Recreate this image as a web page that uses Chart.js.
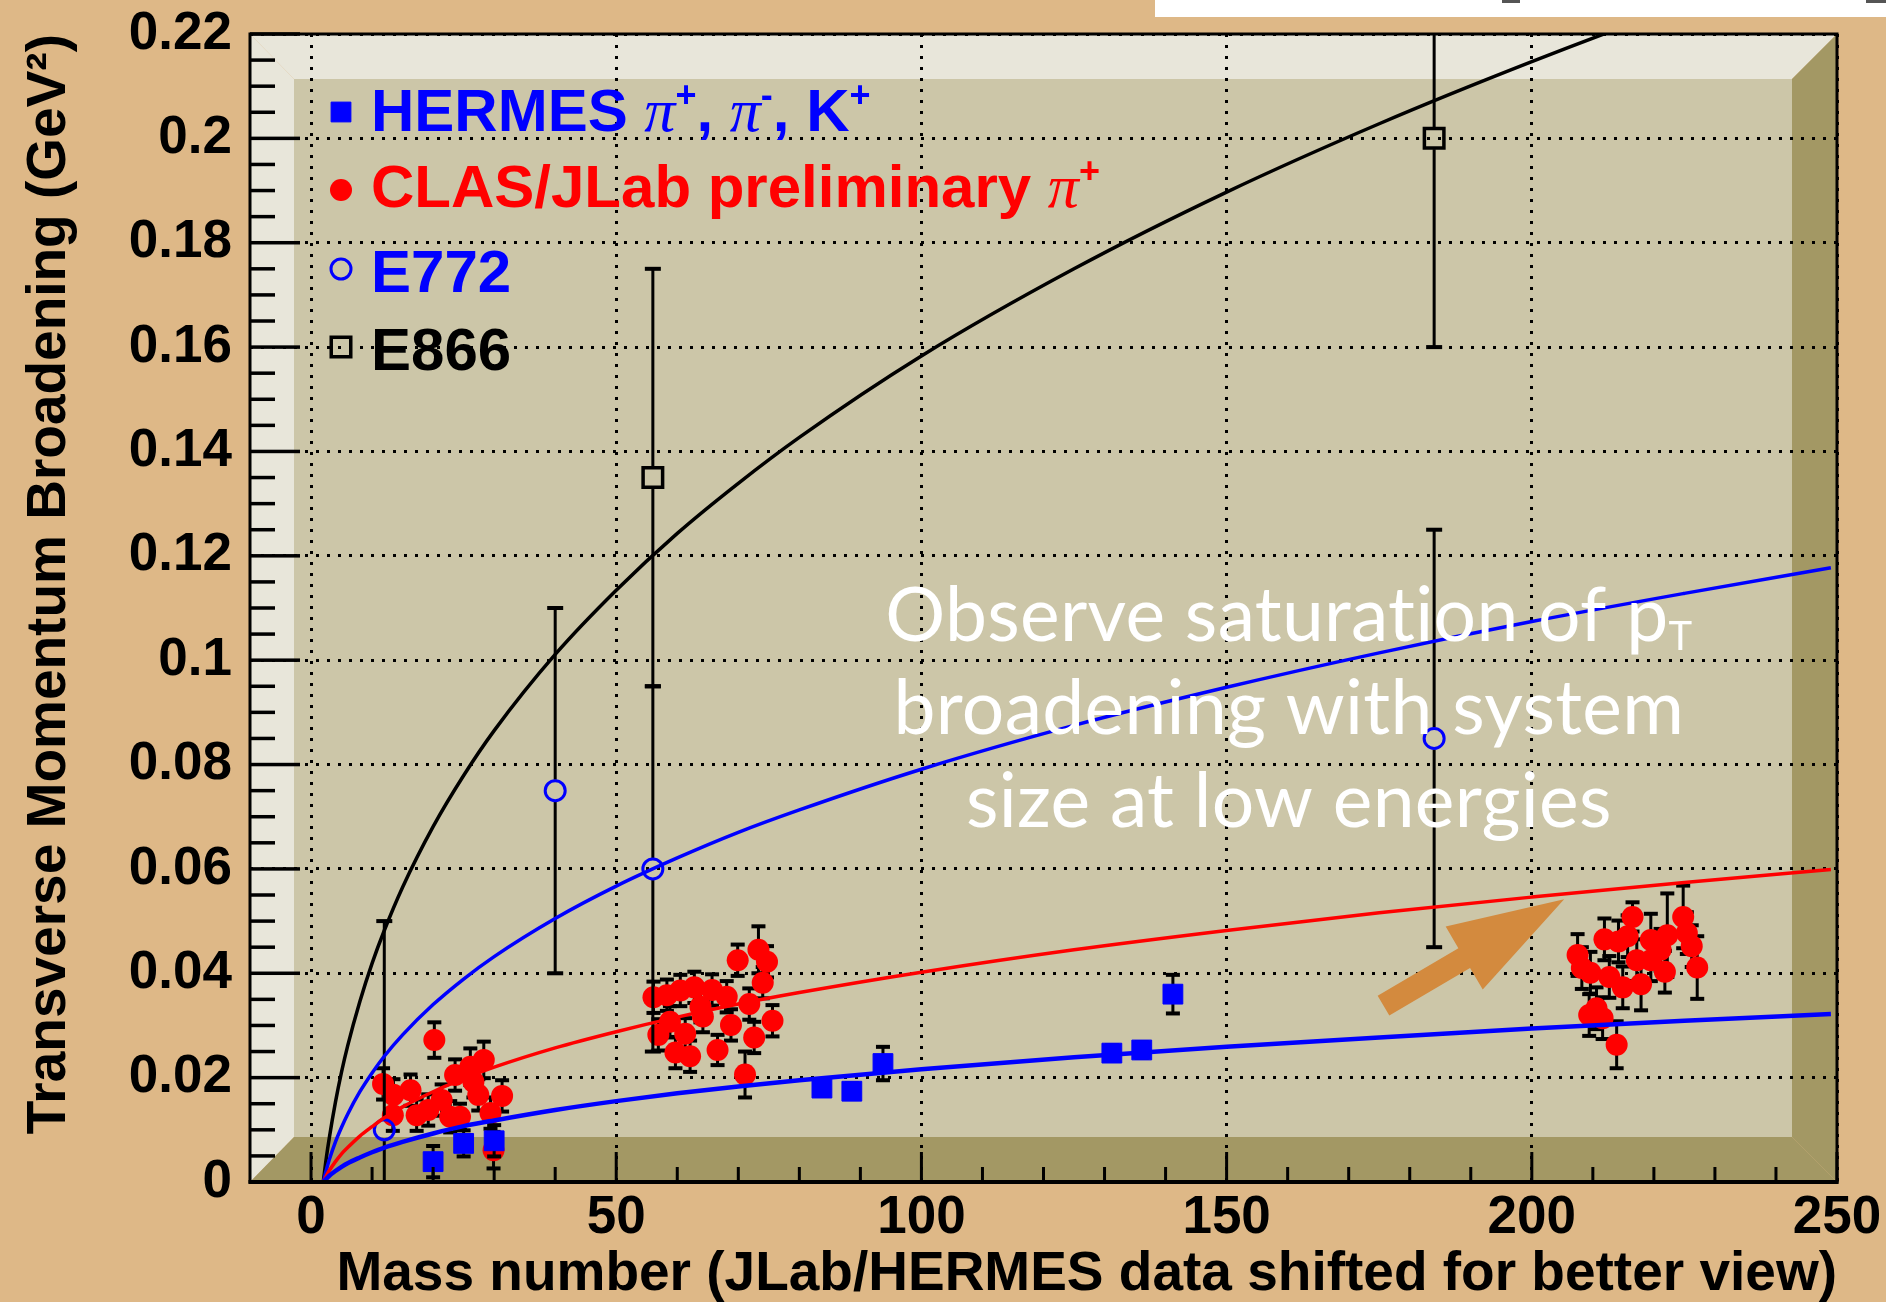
<!DOCTYPE html>
<html lang="en">
<head>
<meta charset="utf-8">
<style>
    html, body { margin: 0; padding: 0; background: #DEB887; }
    #wrap { width: 1886px; height: 1302px; }
</style>
</head>
<body>
<div id="wrap"><canvas id="myChart" width="1886" height="1302"></canvas></div>

<script src="https://cdn.jsdelivr.net/npm/chart.js@4/dist/chart.umd.min.js"></script>
<script>
    // ---------- values ----------
    var xRange = [-10, 250];
    var yRange = [0, 0.22];

    // CLAS/JLab preliminary pi+ (C, Fe, Pb clusters, A shifted)
    var clasA = [20.2, 11.8, 13.5, 16.3, 13.4, 17.3, 19.2, 21.4, 22.8, 24.4, 23.6, 26.1, 28.3, 26.6, 27.4, 31.3, 29.4, 29.9,
        56.1, 58.3, 60.5, 62.8, 65.7, 68.1, 63.8, 64.2, 58.8, 56.9, 61.3, 59.7, 62.1, 66.6, 68.8, 71.8, 72.6, 75.6, 71.1, 69.9, 73.3, 74.7, 74.0,
        216.5, 211.9, 214.2, 215.7, 207.5, 208.2, 209.6, 212.7, 214.9, 217.9, 217.2, 219.5, 222.2, 224.8, 225.4, 226.2, 219.5, 221.8, 227.1, 210.6, 209.4, 211.6, 213.9, 221.1];
    var clasPt = [0.0272, 0.0188, 0.0167, 0.0176, 0.0128, 0.0128, 0.0138, 0.0157, 0.0125, 0.0125, 0.0205, 0.0221, 0.0234, 0.0192, 0.0167, 0.0165, 0.0132, 0.0061,
        0.0354, 0.0358, 0.0367, 0.0373, 0.0368, 0.0355, 0.0336, 0.0317, 0.0307, 0.0282, 0.0284, 0.0248, 0.0241, 0.0253, 0.0301, 0.0341, 0.0277, 0.0309, 0.0206, 0.0425, 0.0445, 0.0422, 0.0382,
        0.0508, 0.0465, 0.0461, 0.0471, 0.0435, 0.0410, 0.0401, 0.0393, 0.0373, 0.0379, 0.0425, 0.0464, 0.0473, 0.0508, 0.0477, 0.0452, 0.0425, 0.0403, 0.0411, 0.0333, 0.0320, 0.0314, 0.0263, 0.0445];
    var clasErr = [0.0034, 0.0030, 0.0030, 0.0030, 0.0030, 0.0030, 0.0030, 0.0030, 0.0030, 0.0025, 0.0030, 0.0035, 0.0035, 0.0030, 0.0030, 0.0030, 0.0030, 0.0035,
        0.0030, 0.0030, 0.0030, 0.0030, 0.0030, 0.0030, 0.0030, 0.0030, 0.0030, 0.0030, 0.0030, 0.0030, 0.0030, 0.0029, 0.0030, 0.0030, 0.0030, 0.0030, 0.0044, 0.0030, 0.0045, 0.0030, 0.0030,
        0.0028, 0.0040, 0.0040, 0.0040, 0.0040, 0.0040, 0.0040, 0.0040, 0.0040, 0.0050, 0.0040, 0.0050, 0.0080, 0.0060, 0.0040, 0.0040, 0.0040, 0.0040, 0.0060, 0.0040, 0.0040, 0.0040, 0.0045, 0.0040];

    // HERMES pi+, pi-, K+
    var hermesA = [20.0, 25.0, 30.0, 83.7, 88.6, 93.7, 131.2, 136.1, 141.2];
    var hermesPt = [0.0039, 0.0074, 0.0079, 0.0180, 0.0174, 0.0227, 0.0247, 0.0253, 0.0360];
    var hermesErr = [0.0030, 0.0025, 0.0030, 0.0015, 0.0015, 0.0032, 0.0015, 0.0015, 0.0037];

    // E772 and E866 Drell-Yan
    var e772A = [12, 40, 56, 184];
    var e772Pt = [0.010, 0.075, 0.060, 0.085];
    var e772Err = [0.040, 0.035, 0.035, 0.040];
    var e866A = [56, 184];
    var e866Pt = [0.135, 0.200];
    var e866Err = [0.040, 0.040];

    // fitted curves, sampled along A
    var curveA = [2, 2.5, 3, 4, 5, 6, 8, 10, 12, 15, 20, 25, 30, 40, 50, 60, 70, 80, 100, 125, 150, 175, 200, 225, 249];
    var curveE866 = [0, 0.0046, 0.0085, 0.0153, 0.0211, 0.0261, 0.0346, 0.0419, 0.0482, 0.0565, 0.0681, 0.0779, 0.0865, 0.1011, 0.1134, 0.1243, 0.1339, 0.1427, 0.1583, 0.1750, 0.1897, 0.2028, 0.2147, 0.2257, 0.2355];
    var curveE772 = [0, 0.0023, 0.0043, 0.0077, 0.0105, 0.0130, 0.0173, 0.0209, 0.0241, 0.0282, 0.0340, 0.0389, 0.0432, 0.0505, 0.0567, 0.0621, 0.0670, 0.0713, 0.0791, 0.0875, 0.0948, 0.1014, 0.1074, 0.1128, 0.1177];
    var curveClas = [0, 0.0012, 0.0022, 0.0039, 0.0054, 0.0066, 0.0088, 0.0106, 0.0123, 0.0144, 0.0173, 0.0198, 0.0220, 0.0257, 0.0288, 0.0316, 0.0341, 0.0363, 0.0402, 0.0445, 0.0482, 0.0516, 0.0546, 0.0574, 0.0599];
    var curveHermes = [0, 0.0006, 0.0012, 0.0021, 0.0029, 0.0036, 0.0047, 0.0057, 0.0066, 0.0077, 0.0093, 0.0107, 0.0118, 0.0138, 0.0155, 0.0170, 0.0183, 0.0195, 0.0216, 0.0239, 0.0259, 0.0277, 0.0294, 0.0309, 0.0322];

    // texts
    var xTitle = 'Mass number (JLab/HERMES data shifted for better view)';
    var yTitle = 'Transverse Momentum Broadening (GeV\u00B2)';
    var legendTexts = [
        [['HERMES ', 'b'], ['\u03C0', 'g'], ['+', 'sup'], [', ', 'b'], ['\u03C0', 'g'], ['-', 'sup'], [', K', 'b'], ['+', 'sup']],
        [['CLAS/JLab preliminary ', 'b'], ['\u03C0', 'g'], ['+', 'sup']],
        [['E772', 'b']],
        [['E866', 'b']]
    ];
    var noteLines = ['Observe saturation of p', 'broadening with system', 'size at low energies'];
    var noteSub = 'T';
    var noteAt = [160.2, 0.1037];      // centre / first baseline, data units
    var arrowTail = [175.7, 0.0338];
    var arrowTip = [205.3, 0.0542];

    // ---------- helpers ----------
    function points(xs, ys) {
        return xs.map(function (v, i) { return { x: v, y: ys[i] }; });
    }

    var pageColor = '#DEB887';
    var panelColor = '#CCC6A8';
    var lightBand = '#E8E6DA';
    var darkBand = '#A39864';

    function poly(ctx, pts, color) {
        ctx.fillStyle = color;
        ctx.beginPath();
        ctx.moveTo(pts[0][0], pts[0][1]);
        for (var i = 1; i < pts.length; i++) ctx.lineTo(pts[i][0], pts[i][1]);
        ctx.closePath();
        ctx.fill();
    }

    var backdrop = {
        id: 'backdrop',
        beforeDraw: function (chart) {
            var ctx = chart.ctx, a = chart.chartArea;
            ctx.save();
            ctx.fillStyle = pageColor;
            ctx.fillRect(0, 0, chart.width, chart.height);
            // strip of the slide above
            ctx.fillStyle = '#FFFFFF';
            ctx.fillRect(1155, 0, chart.width - 1155, 17);
            ctx.fillStyle = '#555';
            ctx.fillRect(1502, 0, 18, 3);
            ctx.fillRect(1866, 0, 20, 3);
            // 3D frame
            var il = a.left + 44, it = a.top + 45, ir = a.right - 45, ib = a.bottom - 45;
            poly(ctx, [[a.left, a.top], [a.right, a.top], [ir, it], [il, it]], lightBand);
            poly(ctx, [[a.left, a.top], [il, it], [il, ib], [a.left, a.bottom]], lightBand);
            poly(ctx, [[a.left, a.bottom], [il, ib], [ir, ib], [a.right, a.bottom]], darkBand);
            poly(ctx, [[a.right, a.top], [a.right, a.bottom], [ir, ib], [ir, it]], darkBand);
            ctx.fillStyle = panelColor;
            ctx.fillRect(il, it, ir - il, ib - it);
            ctx.restore();
        }
    };

    var errorBars = {
        id: 'errorBars',
        beforeDatasetDraw: function (chart, args) {
            var ds = chart.data.datasets[args.index];
            if (!ds.errors) return;
            var ctx = chart.ctx, a = chart.chartArea;
            var xs = chart.scales.x, ys = chart.scales.y;
            var gap = ds.errorGap || 0;
            var cap = ds.capWidth || 14;
            ctx.save();
            ctx.beginPath();
            ctx.rect(a.left, a.top, a.right - a.left, a.bottom - a.top);
            ctx.clip();
            ctx.strokeStyle = '#000';
            ctx.fillStyle = '#000';
            ctx.lineWidth = 3;
            ds.data.forEach(function (p, i) {
                var e = ds.errors[i];
                var px = xs.getPixelForValue(p.x);
                var py = ys.getPixelForValue(p.y);
                var top = ys.getPixelForValue(p.y + e);
                var bot = ys.getPixelForValue(p.y - e);
                ctx.beginPath();
                ctx.moveTo(px, top);
                ctx.lineTo(px, Math.max(top, py - gap));
                ctx.moveTo(px, Math.min(bot, py + gap));
                ctx.lineTo(px, bot);
                ctx.stroke();
                ctx.fillRect(px - cap / 2, top - 2, cap, 4);
                ctx.fillRect(px - cap / 2, bot - 2, cap, 4);
            });
            ctx.restore();
        }
    };

    var frameTicks = {
        id: 'frameTicks',
        afterDatasetsDraw: function (chart) {
            var ctx = chart.ctx, a = chart.chartArea;
            var xs = chart.scales.x, ys = chart.scales.y;
            ctx.save();
            ctx.fillStyle = '#000';
            var k, v, p;
            for (k = 0; k <= 44; k++) {
                v = yRange[0] + k * 0.005;
                p = ys.getPixelForValue(v);
                ctx.fillRect(a.left, p - 1.75, k % 4 === 0 ? 50 : 25, 3.5);
            }
            for (k = 0; k <= 25; k++) {
                v = k * 10;
                p = xs.getPixelForValue(v);
                var len = k % 5 === 0 ? 30 : 15;
                ctx.fillRect(p - 1.5, a.bottom - len, 3, len);
            }
            ctx.strokeStyle = '#000';
            ctx.lineWidth = 3;
            ctx.strokeRect(a.left, a.top, a.right - a.left, a.bottom - a.top);
            ctx.fillRect(a.left - 1.5, a.bottom - 2, a.right - a.left + 3, 4);
            ctx.restore();
        }
    };

    var richFonts = {
        b: { font: 'bold 60px "Liberation Sans", Arial, sans-serif', rise: 0 },
        g: { font: 'italic 62px "Liberation Serif", "Times New Roman", serif', rise: 0 },
        sup: { font: 'bold 36px "Liberation Sans", Arial, sans-serif', rise: 24 }
    };
    var legendRows = [
        { ds: 1, base: 131, mark: 112 },
        { ds: 0, base: 207, mark: 190 },
        { ds: 2, base: 292, mark: 269 },
        { ds: 3, base: 370, mark: 347 }
    ];

    var overlay = {
        id: 'overlay',
        afterDraw: function (chart) {
            var ctx = chart.ctx;
            var xs = chart.scales.x, ys = chart.scales.y;
            ctx.save();

            // legend
            legendRows.forEach(function (row, i) {
                var ds = chart.data.datasets[row.ds];
                ctx.fillStyle = ds.pointBackgroundColor;
                ctx.strokeStyle = ds.pointBorderColor;
                ctx.lineWidth = ds.pointBorderWidth;
                Chart.helpers.drawPoint(ctx, {
                    pointStyle: ds.pointStyle, radius: ds.pointRadius,
                    borderWidth: ds.pointBorderWidth, rotation: 0
                }, 341, row.mark);
                ctx.fillStyle = ds.textColor;
                ctx.textAlign = 'left';
                ctx.textBaseline = 'alphabetic';
                var cx = 371;
                legendTexts[i].forEach(function (part) {
                    var f = richFonts[part[1]];
                    ctx.font = f.font;
                    ctx.fillText(part[0], cx, row.base - f.rise);
                    cx += ctx.measureText(part[0]).width;
                });
            });

            // arrow
            var x0 = xs.getPixelForValue(arrowTail[0]), y0 = ys.getPixelForValue(arrowTail[1]);
            var x1 = xs.getPixelForValue(arrowTip[0]), y1 = ys.getPixelForValue(arrowTip[1]);
            var len = Math.hypot(x1 - x0, y1 - y0);
            var ux = (x1 - x0) / len, uy = (y1 - y0) / len, nx = -uy, ny = ux;
            var shaft = 11.5, head = 36.5, headLen = 116;
            var bx = x1 - ux * headLen, by = y1 - uy * headLen;
            poly(ctx, [
                [x0 + nx * shaft, y0 + ny * shaft],
                [bx + nx * shaft, by + ny * shaft],
                [bx + nx * head, by + ny * head],
                [x1, y1],
                [bx - nx * head, by - ny * head],
                [bx - nx * shaft, by - ny * shaft],
                [x0 - nx * shaft, y0 - ny * shaft]
            ], '#D38A3E');

            // white note (small letter spacing keeps "ti" from joining)
            var cxN = xs.getPixelForValue(noteAt[0]);
            var base = ys.getPixelForValue(noteAt[1]);
            ctx.fillStyle = '#FFFFFF';
            ctx.textAlign = 'left';
            ctx.textBaseline = 'alphabetic';
            if ('letterSpacing' in ctx) ctx.letterSpacing = '0.3px';
            noteLines.forEach(function (line, i) {
                var by2 = base + i * 93;
                ctx.font = '75px Lato, "Open Sans", sans-serif';
                var w = ctx.measureText(line).width;
                var wSub = 0;
                if (i === 0) {
                    ctx.font = '40px Lato, "Open Sans", sans-serif';
                    wSub = ctx.measureText(noteSub).width;
                }
                var sx = cxN - (w + wSub) / 2;
                ctx.font = '75px Lato, "Open Sans", sans-serif';
                ctx.fillText(line, sx, by2);
                if (i === 0) {
                    ctx.font = '40px Lato, "Open Sans", sans-serif';
                    ctx.fillText(noteSub, sx + w, by2 + 9);
                }
            });
            if ('letterSpacing' in ctx) ctx.letterSpacing = '0px';
            ctx.restore();
        }
    };

    Chart.defaults.font.family = '"Liberation Sans", Arial, Helvetica, sans-serif';

    var curveStyle = function (data, color, width, order) {
        return {
            data: points(curveA, data),
            showLine: true,
            borderColor: color,
            borderWidth: width,
            pointRadius: 0,
            cubicInterpolationMode: 'monotone',
            order: order
        };
    };

    // keep the plot frame where the figure has it: no label overflow padding
    function fixWidth(w) {
        return function (s) { s.width = w; s.paddingTop = 0; s.paddingBottom = 0; };
    }
    function fixHeight(h) {
        return function (s) { s.height = h; s.paddingLeft = 0; s.paddingRight = 0; };
    }

    var ctx = document.getElementById('myChart').getContext('2d');
    var myChart = new Chart(ctx, {
        type: 'scatter',
        data: {
            datasets: [
                {
                    label: 'CLAS/JLab preliminary',
                    data: points(clasA, clasPt), errors: clasErr,
                    pointStyle: 'circle', pointRadius: 11, pointBorderWidth: 0,
                    pointBackgroundColor: '#FF0000', pointBorderColor: '#FF0000',
                    textColor: '#FF0000', order: 9
                },
                {
                    label: 'HERMES',
                    data: points(hermesA, hermesPt), errors: hermesErr,
                    pointStyle: 'rect', pointRadius: 14, pointBorderWidth: 1,
                    pointBackgroundColor: '#0000FF', pointBorderColor: '#0000FF',
                    textColor: '#0000FF', order: 8
                },
                {
                    label: 'E772',
                    data: points(e772A, e772Pt), errors: e772Err, errorGap: 11, capWidth: 16,
                    pointStyle: 'circle', pointRadius: 10, pointBorderWidth: 3,
                    pointBackgroundColor: 'rgba(0,0,0,0)', pointBorderColor: '#0000FF',
                    textColor: '#0000FF', order: 7
                },
                {
                    label: 'E866',
                    data: points(e866A, e866Pt), errors: e866Err, errorGap: 11, capWidth: 16,
                    pointStyle: 'rect', pointRadius: 13.8, pointBorderWidth: 3.5,
                    pointBackgroundColor: 'rgba(0,0,0,0)', pointBorderColor: '#000000',
                    textColor: '#000000', order: 6
                },
                curveStyle(curveE866, '#000000', 3.5, 4),
                curveStyle(curveE772, '#0000FF', 3.5, 3),
                curveStyle(curveClas, '#FF0000', 3.5, 2),
                curveStyle(curveHermes, '#0000FF', 4.5, 1)
            ]
        },
        options: {
            responsive: false,
            animation: false,
            devicePixelRatio: 1,
            events: [],
            layout: { padding: { left: 0, top: 34, right: 49, bottom: 0 } },
            plugins: { legend: { display: false }, tooltip: { enabled: false } },
            scales: {
                x: {
                    type: 'linear',
                    min: xRange[0], max: xRange[1],
                    afterFit: fixHeight(120),
                    grid: { color: '#000', lineWidth: 3, drawTicks: false },
                    border: { display: false, dash: [3, 8] },
                    ticks: {
                        stepSize: 50, includeBounds: false, autoSkip: false, maxRotation: 0,
                        padding: 5, color: '#000',
                        font: { size: 53, weight: 'bold' }
                    },
                    title: {
                        display: true, text: xTitle, align: 'end', color: '#000',
                        font: { size: 55, weight: 'bold', lineHeight: 1 },
                        padding: { top: 0, bottom: 0 }
                    }
                },
                y: {
                    type: 'linear',
                    min: yRange[0], max: yRange[1],
                    afterFit: fixWidth(250),
                    grid: { color: '#000', lineWidth: 3, drawTicks: false },
                    border: { display: false, dash: [3, 8] },
                    ticks: {
                        stepSize: 0.02, autoSkip: false, padding: 18, color: '#000',
                        font: { size: 53, weight: 'bold' },
                        callback: function (v) { return String(+v.toFixed(2)); }
                    },
                    title: {
                        display: true, text: yTitle, align: 'end', color: '#000',
                        font: { size: 55, weight: 'bold', lineHeight: 1 },
                        padding: { top: 22, bottom: 0 }
                    }
                }
            }
        },
        plugins: [backdrop, errorBars, frameTicks, overlay]
    });
</script>
</body>
</html>
